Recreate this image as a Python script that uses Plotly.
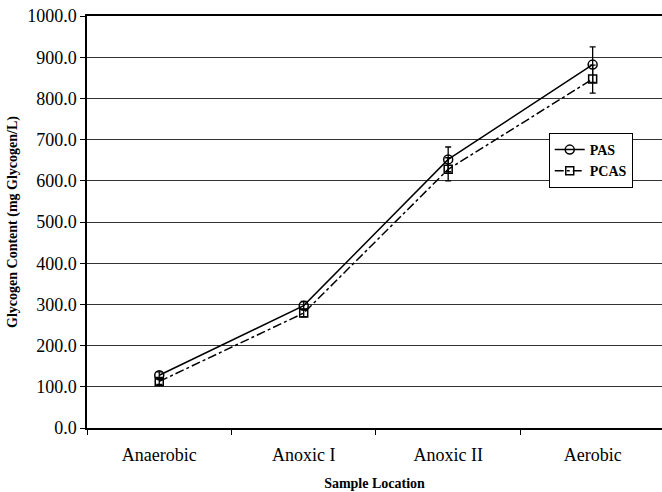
import plotly.graph_objects as go

categories = ["Anaerobic", "Anoxic I", "Anoxic II", "Aerobic"]
pas_values = [128, 297, 652, 882]
pas_err = [8, 10, 30, 43]
pcas_values = [113, 279, 628, 847]
pcas_err = [7, 9, 28, 34]

y_ticks = [0, 100, 200, 300, 400, 500, 600, 700, 800, 900, 1000]

FONT = "Liberation Serif"

fig = go.Figure()
fig.add_trace(go.Scatter(
    x=categories, y=pas_values, name="PAS", mode="lines+markers",
    line=dict(color="black", width=1.5, dash="solid"),
    marker=dict(symbol="circle-open", size=9, color="black", line=dict(width=1.5)),
    error_y=dict(type="data", array=pas_err, color="black", thickness=1.3, width=3),
))
fig.add_trace(go.Scatter(
    x=categories, y=pcas_values, name="PCAS", mode="lines+markers",
    line=dict(color="black", width=1.5, dash="dashdot"),
    marker=dict(symbol="square-open", size=8, color="black", line=dict(width=1.5)),
    error_y=dict(type="data", array=pcas_err, color="black", thickness=1.3, width=3),
))

fig.update_layout(
    width=662, height=492,
    margin=dict(l=87, r=0, t=16, b=64),
    paper_bgcolor="white", plot_bgcolor="white",
    font=dict(family=FONT, color="black", size=15),
    showlegend=True,
    legend=dict(
        x=0.803, y=0.716, xanchor="left", yanchor="top",
        bordercolor="black", borderwidth=1, bgcolor="white",
        font=dict(family=FONT, size=14, color="black", weight="bold"),
        tracegroupgap=0, itemwidth=30,
    ),
    xaxis=dict(
        type="category", range=[-0.5, 3.48], automargin=False,
        showline=True, linecolor="black", linewidth=1.5, mirror=True,
        ticks="outside", tickson="boundaries", ticklen=5, tickcolor="black",
        ticklabelstandoff=10,
        showgrid=False, tickfont=dict(family=FONT, size=18),
        title=dict(text="Sample Location", font=dict(family=FONT, size=14, weight="bold"), standoff=14),
    ),
    yaxis=dict(
        range=[0, 1000], tickvals=y_ticks, tickformat=".1f", automargin=False,
        showline=True, linecolor="black", linewidth=1.5,
        ticks="outside", ticklen=5, tickcolor="black",
        showgrid=True, gridcolor="#333333", gridwidth=1,
        tickfont=dict(family=FONT, size=18),
        title=dict(text="Glycogen Content (mg Glycogen/L)", font=dict(family=FONT, size=14, weight="bold"), standoff=6),
        zeroline=False,
    ),
)

fig.write_html("out.html", config={"displayModeBar": False},
               post_script="document.body.style.margin='0';")
